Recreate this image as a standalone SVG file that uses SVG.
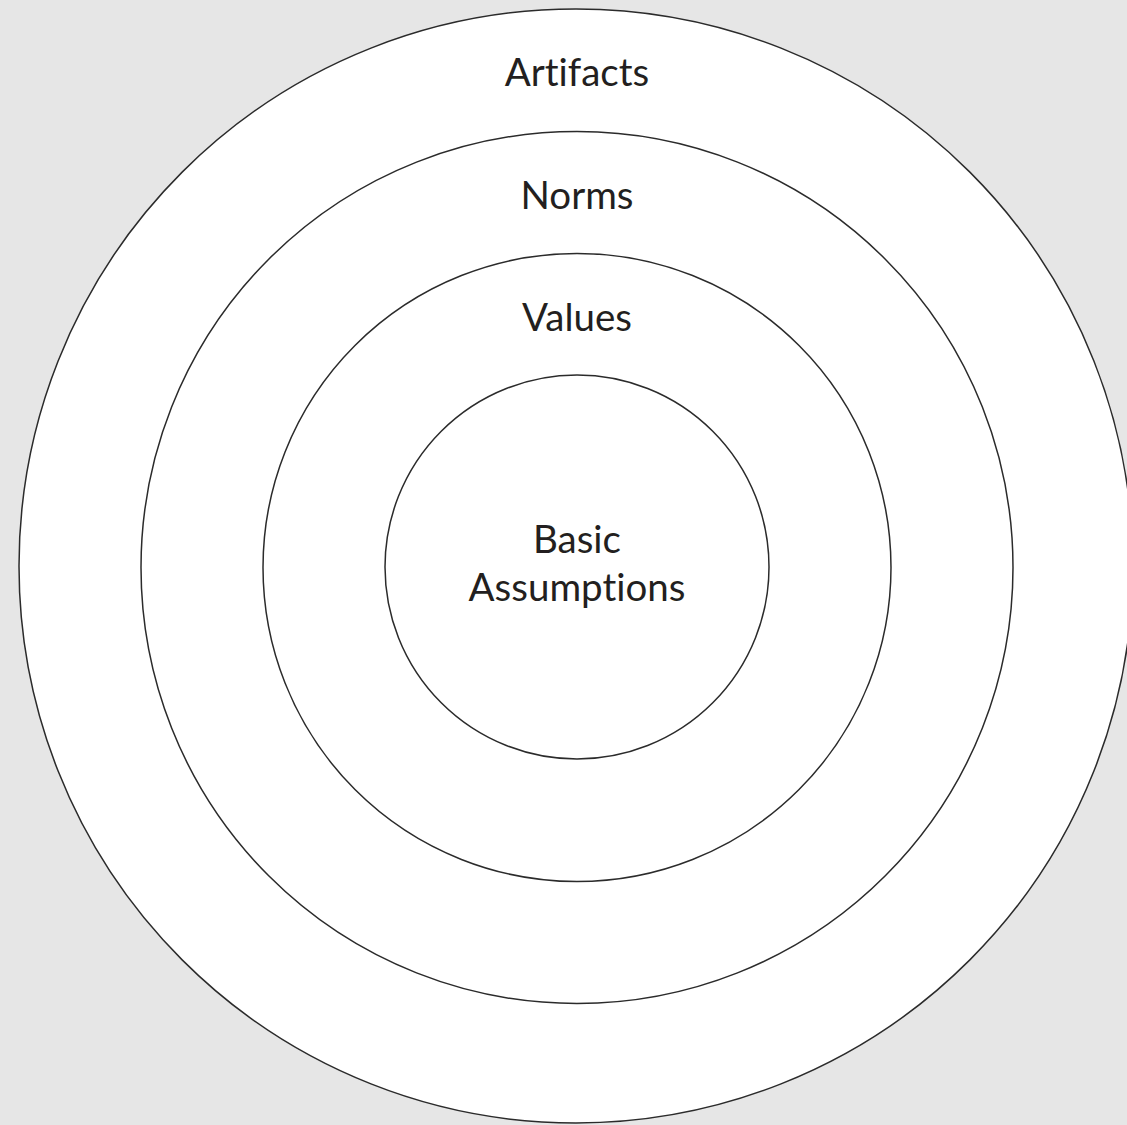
<svg xmlns="http://www.w3.org/2000/svg" width="1127" height="1125" viewBox="0 0 1127 1125">
<style>
.ring{fill:#ffffff;stroke:#2b2b2b;stroke-width:1.5}
.lbl{font-family:Lato,"Open Sans","Liberation Sans",sans-serif;font-size:38.5px;fill:#231f20;text-anchor:middle;font-variant-ligatures:none}
</style>
<rect x="0" y="0" width="1127" height="1125" fill="#e6e6e6"/>
<g id="artifacts">
<circle class="ring" cx="576" cy="566" r="557"/>
<text class="lbl" x="577" y="86">Artifacts</text>
</g>
<g id="norms">
<circle class="ring" cx="577" cy="567.5" r="436"/>
<text class="lbl" x="577" y="209">Norms</text>
</g>
<g id="values">
<circle class="ring" cx="577" cy="567.5" r="314"/>
<text class="lbl" x="577" y="331">Values</text>
</g>
<g id="basic-assumptions">
<circle class="ring" cx="577" cy="567" r="192"/>
<text class="lbl" x="577" y="553">Basic</text>
<text class="lbl" x="577" y="601">Assumptions</text>
</g>
<g id="connectors"></g>
</svg>
